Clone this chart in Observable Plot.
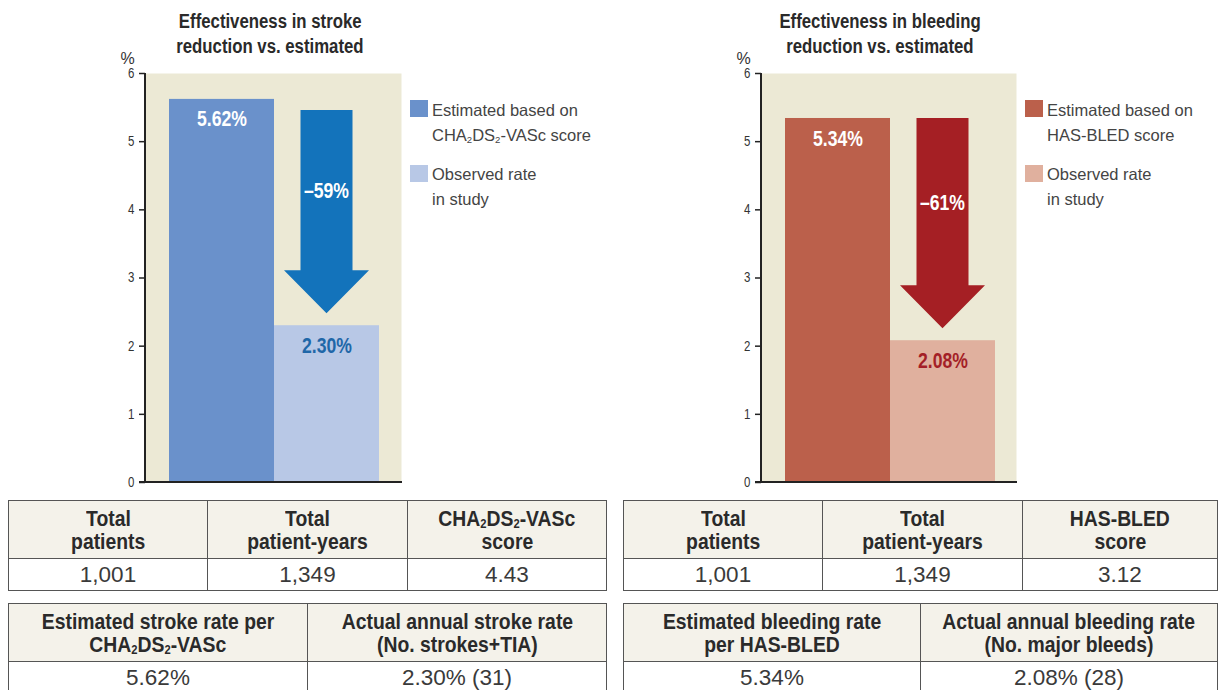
<!DOCTYPE html>
<html>
<head>
<meta charset="utf-8">
<script src="https://cdn.jsdelivr.net/npm/d3@7"></script>
<script src="https://cdn.jsdelivr.net/npm/@observablehq/plot@0.6"></script>
<style>
  html, body { margin: 0; padding: 0; background: #fff; }
  #root { position: relative; width: 1218px; height: 690px; overflow: hidden; background: #fff;
          font-family: "Liberation Sans", Arial, sans-serif; color: #333; }
  .abs { position: absolute; }
  .sq { display: inline-block; transform-origin: 50% 50%; white-space: nowrap; }
  .title { font-weight: bold; font-size: 19.5px; line-height: 25px; text-align: center; color: #2a2a2a; }
  .title .sq { transform: scaleX(0.86); }
  .legend-sw { position: absolute; width: 18px; height: 17px; }
  .legend-tx { position: absolute; font-size: 16.5px; line-height: 25px; color: #444; white-space: nowrap; }
  table.t { position: absolute; border-collapse: collapse; table-layout: fixed; }
  table.t td { border: 1.5px solid #555; text-align: center; padding: 0; overflow: visible; }
  table.t tr.h td { background: #f4f2ea; font-weight: bold; font-size: 22px; line-height: 23px; color: #2a2a2a; }
  table.t tr.h .sq { transform: scaleX(0.88); line-height: 22px; }
  table.t tr.v td { background: #fff; font-size: 22.5px; line-height: 24px; color: #3a3a3a; }
  sub { font-size: 0.58em; vertical-align: -0.16em; line-height: 0; }
</style>
</head>
<body>
<div id="root"></div>
<script>
// ---------------- DATA ----------------
const categories = ["Estimated", "Observed"];
const strokeValues = [5.62, 2.30];
const strokeLabels = ["5.62%", "2.30%"];
const strokeReduction = "\u201359%";
const bleedValues = [5.34, 2.08];
const bleedLabels = ["5.34%", "2.08%"];
const bleedReduction = "\u201361%";
const yTicks = [0, 1, 2, 3, 4, 5, 6];

const strokeTitle = ["Effectiveness in stroke", "reduction vs. estimated"];
const bleedTitle = ["Effectiveness in bleeding", "reduction vs. estimated"];
const strokeLegend = ["Estimated based on<br>CHA<sub>2</sub>DS<sub>2</sub>-VASc score", "Observed rate<br>in study"];
const bleedLegend = ["Estimated based on<br>HAS-BLED score", "Observed rate<br>in study"];

const strokeTable1Head = [["Total", "patients"], ["Total", "patient-years"], ["CHA<sub>2</sub>DS<sub>2</sub>-VASc", "score"]];
const strokeTable1Vals = ["1,001", "1,349", "4.43"];
const strokeTable2Head = [["Estimated stroke rate per", "CHA<sub>2</sub>DS<sub>2</sub>-VASc"], ["Actual annual stroke rate", "(No. strokes+TIA)"]];
const strokeTable2Vals = ["5.62%", "2.30% (31)"];

const bleedTable1Head = [["Total", "patients"], ["Total", "patient-years"], ["HAS-BLED", "score"]];
const bleedTable1Vals = ["1,001", "1,349", "3.12"];
const bleedTable2Head = [["Estimated bleeding rate", "per HAS-BLED"], ["Actual annual bleeding rate", "(No. major bleeds)"]];
const bleedTable2Vals = ["5.34%", "2.08% (28)"];

// ---------------- STYLES ----------------
const FONT = '"Liberation Sans", Arial, sans-serif';
const BEIGE = "#ece9d5";
const panels = [
  {
    left: 0, width: 610, marginLeft: 145, marginRight: 209,
    values: strokeValues, labels: strokeLabels, reduction: strokeReduction,
    colors: ["#6a91cb", "#b8c8e6"], labelColors: ["#ffffff", "#1f67a8"],
    arrowColor: "#1373bb", arrowTopOffset: 11,
    title: strokeTitle, titleCenter: 270, legend: strokeLegend, legendX: 410,
    t1: {x: 8, w: [199, 200, 199], head: strokeTable1Head, vals: strokeTable1Vals},
    t2: {x: 8, w: [299, 299], head: strokeTable2Head, vals: strokeTable2Vals}
  },
  {
    left: 615, width: 603, marginLeft: 146, marginRight: 202,
    values: bleedValues, labels: bleedLabels, reduction: bleedReduction,
    colors: ["#bb604b", "#e0b09e"], labelColors: ["#ffffff", "#a41f27"],
    arrowColor: "#a51f24", arrowTopOffset: 0,
    title: bleedTitle, titleCenter: 880, legend: bleedLegend, legendX: 1025,
    t1: {x: 623, w: [199, 200, 195], head: bleedTable1Head, vals: bleedTable1Vals},
    t2: {x: 623, w: [297, 297], head: bleedTable2Head, vals: bleedTable2Vals}
  }
];

const root = document.getElementById("root");

function arrowAndAxis(cfg) {
  return (index, scales, values, dims) => {
    const x = scales.x, y = scales.y;
    const bw = typeof x.bandwidth === "function" ? x.bandwidth() : x.bandwidth;
    const cx = x(categories[1]) + bw / 2;
    const top = y(cfg.values[0]) + cfg.arrowTopOffset;
    const tip = y(cfg.values[1]) - 12;
    const headTop = tip - 43;
    const sw = 26, hw = 42.5;
    const g = d3.create("svg:g");
    g.append("path")
      .attr("d", `M${cx - sw},${top}H${cx + sw}V${headTop}H${cx + hw}L${cx},${tip}L${cx - hw},${headTop}H${cx - sw}Z`)
      .attr("fill", cfg.arrowColor);
    g.append("text")
      .attr("x", cx).attr("y", (top + headTop) / 2).attr("dy", "0.36em")
      .attr("text-anchor", "middle").attr("fill", "#fff")
      .attr("font-family", FONT).attr("font-weight", "bold").attr("font-size", 22)
      .text(cfg.reduction);
    const x0 = dims.marginLeft, x1 = dims.width - dims.marginRight;
    g.append("line").attr("x1", x0).attr("x2", x0).attr("y1", y(6)).attr("y2", y(0))
      .attr("stroke", "#222").attr("stroke-width", 2);
    g.append("line").attr("x1", x0 - 6).attr("x2", x1 + 1).attr("y1", y(0)).attr("y2", y(0))
      .attr("stroke", "#222").attr("stroke-width", 2);
    return g.node();
  };
}

function condense(svg, k, kBig) {
  svg.querySelectorAll("text").forEach(t => {
    const size = parseFloat(t.getAttribute("font-size") || getComputedStyle(t).fontSize);
    const f = size >= 20 ? kBig : k;
    const L = t.getComputedTextLength();
    if (L > 0 && t.textContent.trim() !== "%") {
      t.setAttribute("textLength", (L * f).toFixed(2));
      t.setAttribute("lengthAdjust", "spacingAndGlyphs");
    }
  });
}

panels.forEach(cfg => {
  const data = categories.map((c, i) => ({
    cat: c, value: cfg.values[i], label: cfg.labels[i],
    fill: cfg.colors[i], labelColor: cfg.labelColors[i]
  }));
  const chart = Plot.plot({
    width: cfg.width, height: 495,
    marginLeft: cfg.marginLeft, marginRight: cfg.marginRight, marginTop: 73, marginBottom: 13,
    style: {fontFamily: FONT, fontSize: "14px", color: "#333", background: "transparent", overflow: "visible"},
    x: {domain: categories, paddingInner: 0, paddingOuter: 0.213, align: 0.53, axis: null},
    y: {domain: [0, 6], label: null},
    color: {type: "identity"},
    marks: [
      Plot.frame({fill: BEIGE, stroke: "none"}),
      Plot.barY(data, {x: "cat", y: "value", fill: "fill", inset: 0}),
      Plot.text(data, {x: "cat", y: "value", text: "label", fill: "labelColor", dy: 20,
        fontSize: 22, fontWeight: "bold", fontFamily: FONT}),
      Plot.axisY({ticks: yTicks, tickFormat: d3.format("d"), tickSize: 6, tickPadding: 5, strokeWidth: 1.5, stroke: "#222",
        fill: "#333", fontSize: 14, label: null}),
      Plot.text(["%"], {frameAnchor: "top-left", textAnchor: "middle", text: d => d, dx: -18, dy: -21, fontSize: 16, fill: "#333"}),
      arrowAndAxis(cfg)
    ]
  });
  const holder = document.createElement("div");
  holder.className = "abs";
  holder.style.left = cfg.left + "px";
  holder.style.top = "0px";
  holder.appendChild(chart);
  root.appendChild(holder);
  condense(chart, 0.82, 0.8);

  // title
  const t = document.createElement("div");
  t.className = "abs title";
  t.style.left = (cfg.titleCenter - 160) + "px";
  t.style.width = "320px";
  t.style.top = "9px";
  t.innerHTML = cfg.title.map(s => `<span class="sq">${s}</span>`).join("<br>");
  root.appendChild(t);

  // legend
  cfg.legend.forEach((txt, i) => {
    const sw = document.createElement("div");
    sw.className = "legend-sw";
    sw.style.left = cfg.legendX + "px";
    sw.style.top = (100 + i * 65) + "px";
    sw.style.background = cfg.colors[i];
    root.appendChild(sw);
    const tx = document.createElement("div");
    tx.className = "legend-tx";
    tx.style.left = (cfg.legendX + 22) + "px";
    tx.style.top = (98 + i * 64) + "px";
    tx.innerHTML = txt;
    root.appendChild(tx);
  });

  // tables
  function makeTable(spec, top, headH, valH) {
    const tb = document.createElement("table");
    tb.className = "t";
    tb.style.left = spec.x + "px";
    tb.style.top = top + "px";
    const total = spec.w.reduce((a, b) => a + b, 0);
    tb.style.width = total + "px";
    const cg = document.createElement("colgroup");
    spec.w.forEach(w => { const c = document.createElement("col"); c.style.width = w + "px"; cg.appendChild(c); });
    tb.appendChild(cg);
    const hr = document.createElement("tr"); hr.className = "h";
    spec.head.forEach(h => {
      const td = document.createElement("td"); td.style.height = headH + "px";
      td.innerHTML = h.map(s => `<span class="sq">${s}</span>`).join("<br>");
      hr.appendChild(td);
    });
    const vr = document.createElement("tr"); vr.className = "v";
    spec.vals.forEach(v => { const td = document.createElement("td"); td.style.height = valH + "px"; td.textContent = v; vr.appendChild(td); });
    tb.appendChild(hr); tb.appendChild(vr);
    root.appendChild(tb);
  }
  makeTable(cfg.t1, 500, 57, 31);
  makeTable(cfg.t2, 603, 57, 31);
});
</script>
</body>
</html>
